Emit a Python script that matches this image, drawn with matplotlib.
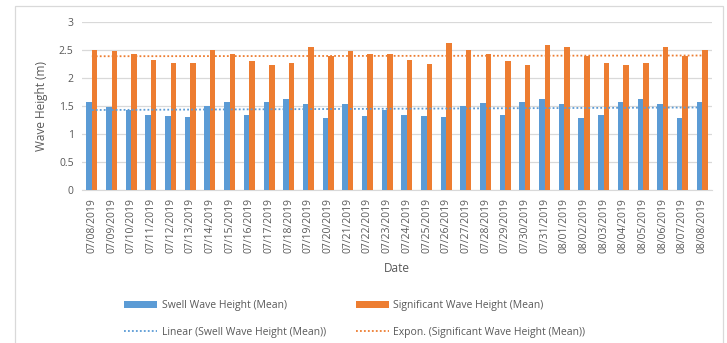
import numpy as np
import matplotlib
matplotlib.use("Agg")
import matplotlib.pyplot as plt
from matplotlib.patches import Rectangle

dates = ["07/08/2019", "07/09/2019", "07/10/2019", "07/11/2019", "07/12/2019", "07/13/2019",
         "07/14/2019", "07/15/2019", "07/16/2019", "07/17/2019", "07/18/2019", "07/19/2019",
         "07/20/2019", "07/21/2019", "07/22/2019", "07/23/2019", "07/24/2019", "07/25/2019",
         "07/26/2019", "07/27/2019", "07/28/2019", "07/29/2019", "07/30/2019", "07/31/2019",
         "08/01/2019", "08/02/2019", "08/03/2019", "08/04/2019", "08/05/2019", "08/06/2019",
         "08/07/2019", "08/08/2019"]
swell = [1.57, 1.47, 1.43, 1.34, 1.31, 1.30, 1.50, 1.56, 1.34, 1.57, 1.62, 1.53,
         1.28, 1.53, 1.31, 1.43, 1.34, 1.31, 1.30, 1.50, 1.55, 1.34, 1.57, 1.62,
         1.53, 1.28, 1.34, 1.57, 1.62, 1.53, 1.28, 1.57]
significant = [2.50, 2.48, 2.43, 2.32, 2.26, 2.26, 2.50, 2.43, 2.29, 2.23, 2.26, 2.55,
               2.38, 2.48, 2.43, 2.43, 2.31, 2.25, 2.62, 2.50, 2.43, 2.29, 2.23, 2.58,
               2.55, 2.38, 2.26, 2.23, 2.26, 2.55, 2.39, 2.50]

BLUE = "#5B9BD5"
ORANGE = "#ED7D31"
TXT = "#595959"

plt.rcParams['font.family'] = ['Open Sans', 'DejaVu Sans']

fig = plt.figure(figsize=(7.27, 3.43), dpi=100)
ax = fig.add_axes([0.1128, 0.446, 0.8665, 0.491])

x = np.arange(len(dates))
w = 0.28
ax.bar(x - 0.14, swell, width=w, color=BLUE, label="Swell Wave Height (Mean)", zorder=3)
ax.bar(x + 0.14, significant, width=w, color=ORANGE, label="Significant Wave Height (Mean)", zorder=3)

# Linear trend on swell
b1, a1 = np.polyfit(x, swell, 1)
ax.plot(x, a1 + b1 * x, linestyle=(0, (1, 1.2)), color=BLUE, lw=1.3,
        label="Linear (Swell Wave Height (Mean))", zorder=4)
# Exponential trend on significant
b2, a2 = np.polyfit(x, np.log(significant), 1)
ax.plot(x, np.exp(a2 + b2 * x), linestyle=(0, (1, 1.2)), color=ORANGE, lw=1.3,
        label="Expon. (Significant Wave Height (Mean))", zorder=4)

ax.set_xlim(-0.5, len(dates) - 0.5)
ax.set_ylim(0, 3)
ax.set_yticks([0, 0.5, 1, 1.5, 2, 2.5, 3])
ax.set_yticklabels(["0", "0.5", "1", "1.5", "2", "2.5", "3"])
ax.set_xticks(x)
ax.set_xticklabels(dates, rotation=90)
ax.tick_params(axis='both', length=0, labelsize=7.5, colors=TXT, pad=6)
ax.grid(axis='y', color="#D9D9D9", lw=0.9, zorder=0)
for s in ["top", "right", "left"]:
    ax.spines[s].set_visible(False)
ax.spines["bottom"].set_color("#D9D9D9")
ax.set_ylabel("Wave Height (m)", fontsize=8.5, color=TXT, labelpad=8)
ax.set_xlabel("Date", fontsize=8.5, color=TXT, labelpad=6)

h, l = ax.get_legend_handles_labels()
# handles order: linear, expon, swell bar, sig bar
order = [2, 0, 3, 1]
fig.legend([h[i] for i in order], [l[i] for i in order], ncol=2, loc="center",
           bbox_to_anchor=(0.488, 0.07), frameon=False, fontsize=7.5,
           labelcolor=TXT, columnspacing=2.9, handlelength=3.2, handleheight=0.6,
           handletextpad=0.4, labelspacing=1.45)

fig.patches.append(Rectangle((15 / 727, -0.1), (723 - 15) / 727, 1.1 - 6 / 343,
                             transform=fig.transFigure, fill=False,
                             edgecolor="#D9D9D9", lw=0.9))

fig.savefig("out.png", dpi=100)
